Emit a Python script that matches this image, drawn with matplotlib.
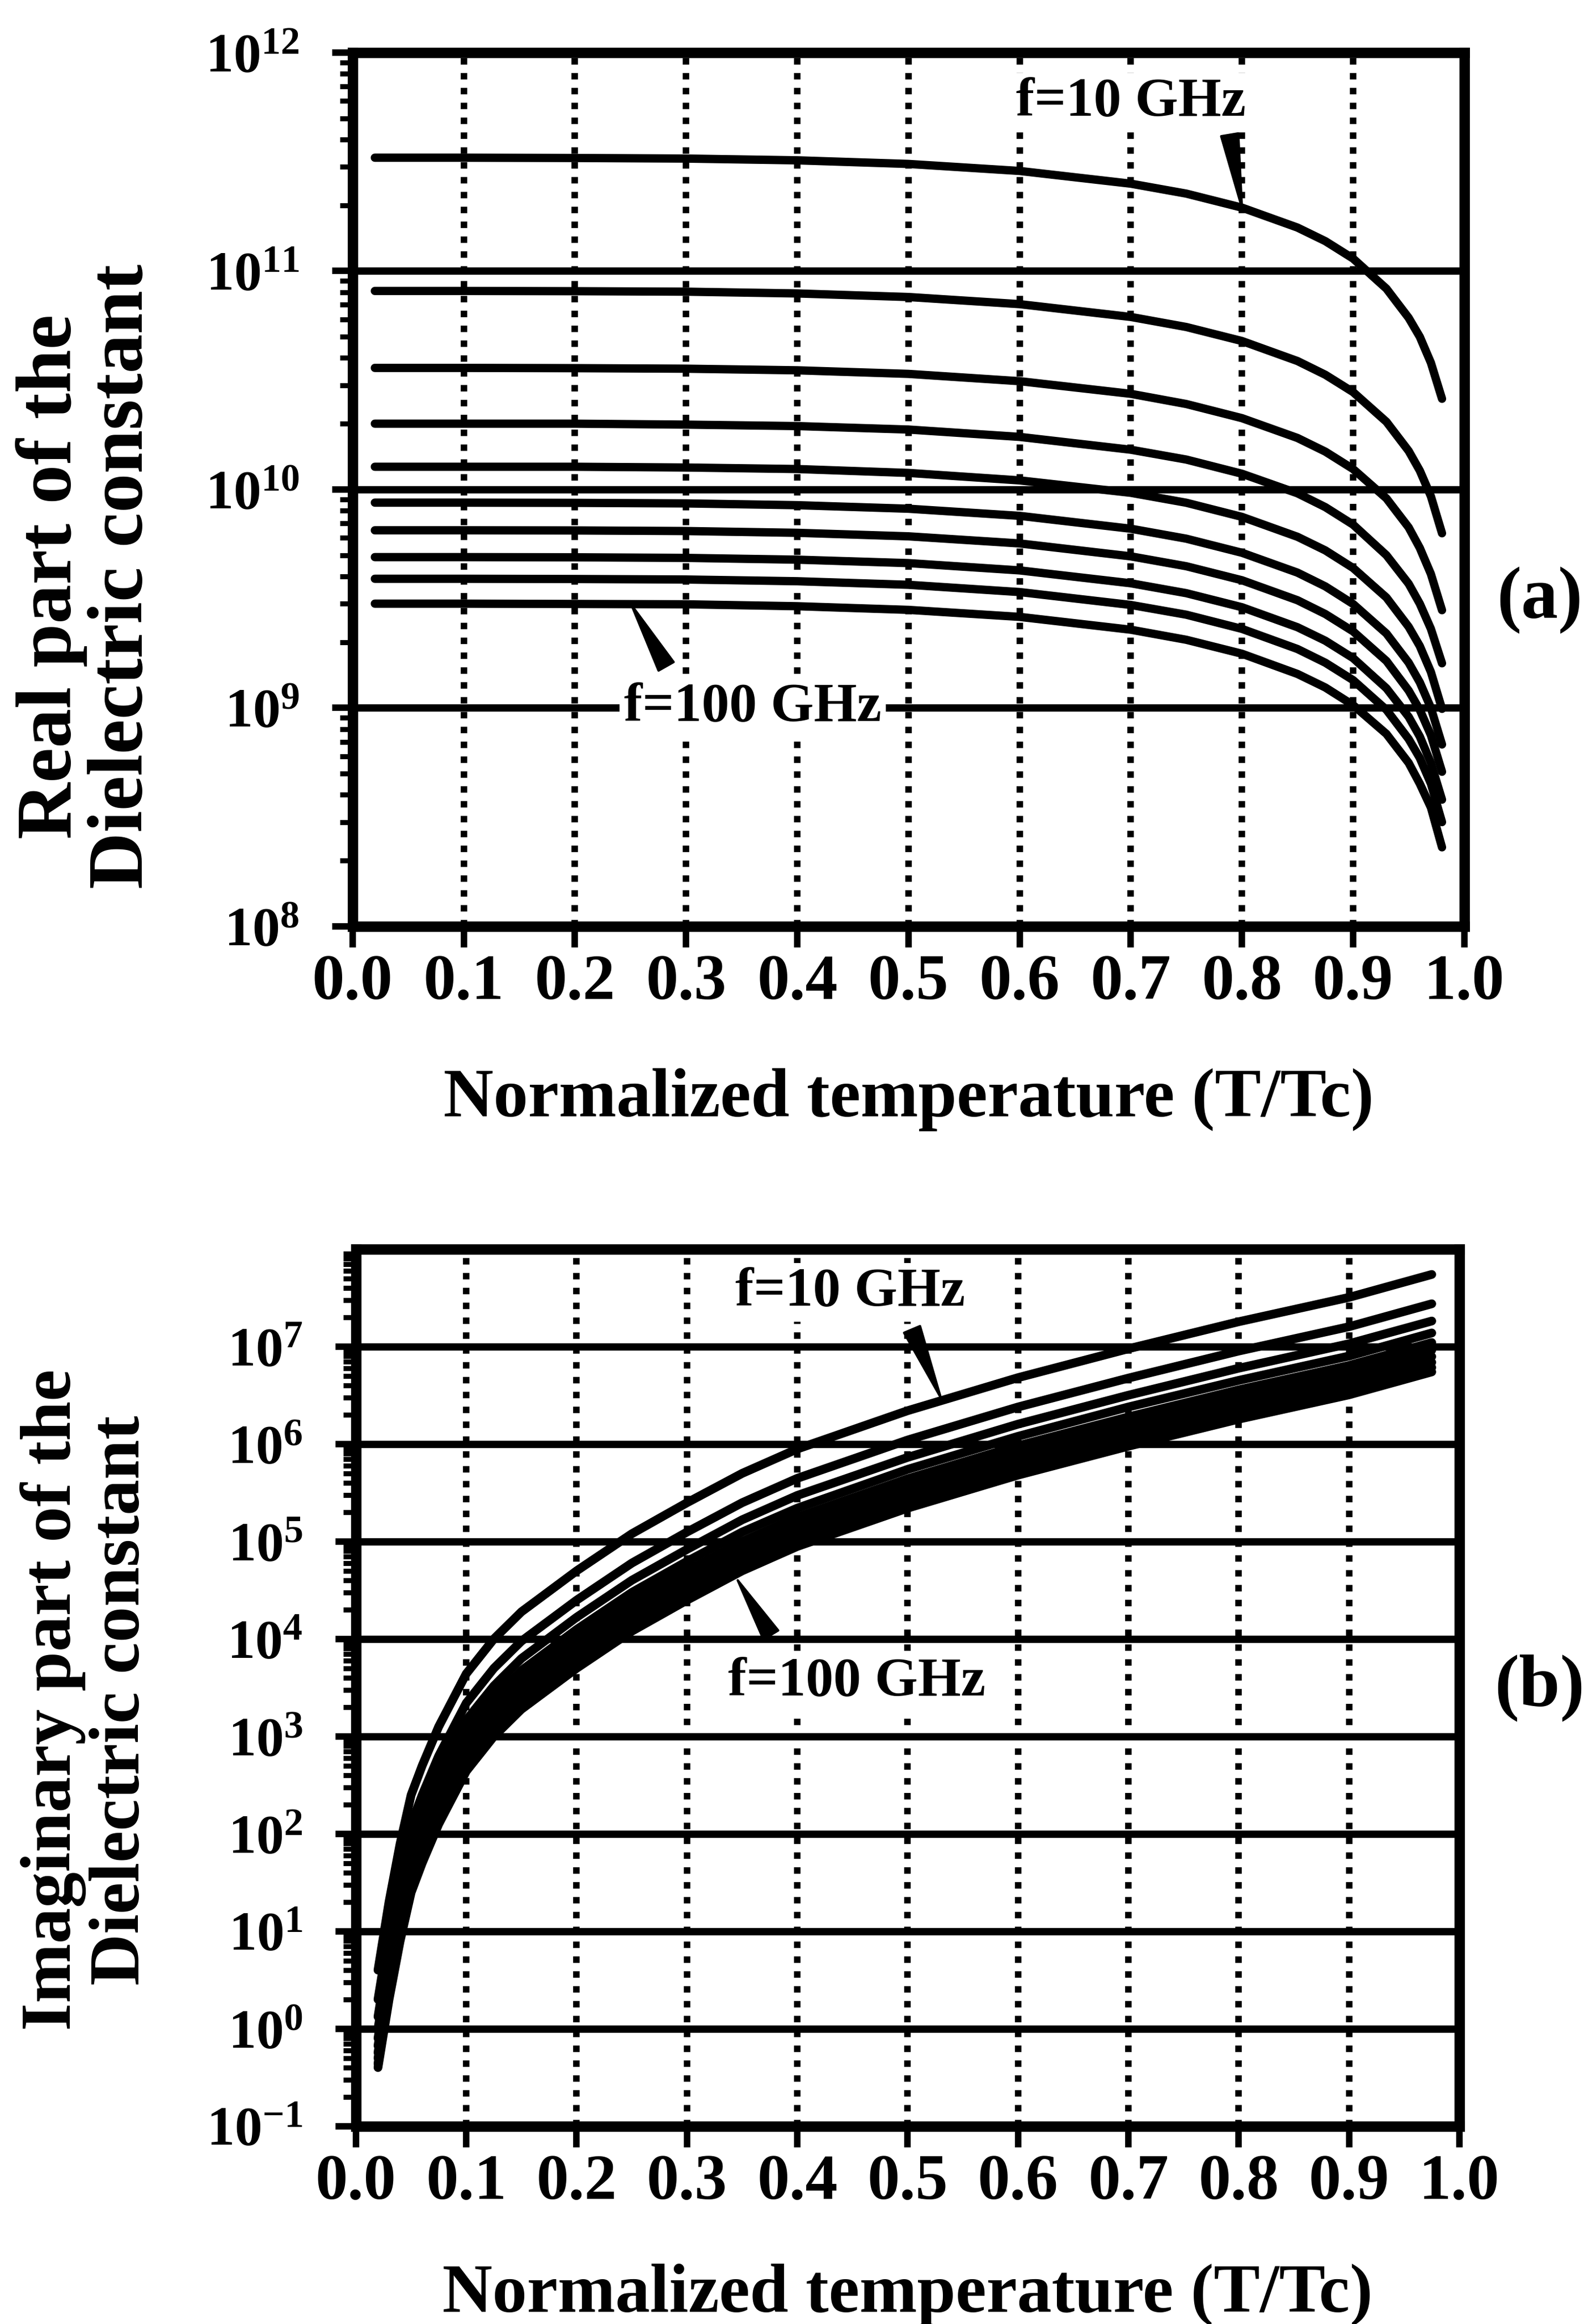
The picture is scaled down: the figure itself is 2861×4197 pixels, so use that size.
import matplotlib.pyplot as plt
from matplotlib.ticker import FixedLocator, LogLocator, NullFormatter, LogFormatterMathtext

plt.rcParams['font.family'] = ['Liberation Serif', 'DejaVu Serif']
plt.rcParams['font.weight'] = 'bold'
plt.rcParams['axes.labelweight'] = 'bold'

# normalized temperature ticks
xticks = [0.0, 0.1, 0.2, 0.3, 0.4, 0.5, 0.6, 0.7, 0.8, 0.9, 1.0]
xtick_labels = ['0.0', '0.1', '0.2', '0.3', '0.4', '0.5', '0.6', '0.7', '0.8', '0.9', '1.0']

# (a) real part, f = 10 ... 100 GHz
t_real = [0.02, 0.1, 0.2, 0.3, 0.4, 0.5, 0.6, 0.7, 0.75, 0.8, 0.85, 0.875, 0.9, 0.93, 0.95, 0.96, 0.97, 0.98]
real_10 = [3.3e11, 3.3e11, 3.29e11, 3.27e11, 3.21e11, 3.09e11, 2.87e11, 2.51e11, 2.26e11, 1.95e11, 1.58e11, 1.37e11, 1.14e11, 8.3e10, 6.1e10, 5.0e10, 3.8e10, 2.6e10]
real_20 = [8.1e10, 8.1e10, 8.08e10, 8.04e10, 7.89e10, 7.6e10, 7.05e10, 6.16e10, 5.54e10, 4.78e10, 3.87e10, 3.35e10, 2.79e10, 2.04e10, 1.5e10, 1.22e10, 9.3e9, 6.3e9]
real_30 = [3.6e10, 3.6e10, 3.59e10, 3.57e10, 3.51e10, 3.38e10, 3.13e10, 2.74e10, 2.46e10, 2.12e10, 1.72e10, 1.49e10, 1.24e10, 9.1e9, 6.7e9, 5.4e9, 4.1e9, 2.8e9]
real_40 = [2.0e10, 2.0e10, 2.0e10, 1.98e10, 1.95e10, 1.88e10, 1.74e10, 1.52e10, 1.37e10, 1.18e10, 9.6e9, 8.3e9, 6.9e9, 5.0e9, 3.7e9, 3.0e9, 2.3e9, 1.6e9]
real_50 = [1.27e10, 1.27e10, 1.27e10, 1.26e10, 1.24e10, 1.19e10, 1.1e10, 9.65e9, 8.69e9, 7.49e9, 6.07e9, 5.26e9, 4.37e9, 3.2e9, 2.35e9, 1.92e9, 1.46e9, 9.9e8]
real_60 = [8.7e9, 8.7e9, 8.68e9, 8.63e9, 8.47e9, 8.16e9, 7.57e9, 6.61e9, 5.95e9, 5.13e9, 4.16e9, 3.6e9, 2.99e9, 2.19e9, 1.61e9, 1.31e9, 1.0e9, 6.8e8]
real_70 = [6.5e9, 6.5e9, 6.49e9, 6.45e9, 6.33e9, 6.1e9, 5.66e9, 4.94e9, 4.45e9, 3.84e9, 3.11e9, 2.69e9, 2.24e9, 1.64e9, 1.2e9, 9.8e8, 7.5e8, 5.1e8]
real_80 = [4.9e9, 4.9e9, 4.89e9, 4.86e9, 4.77e9, 4.6e9, 4.26e9, 3.72e9, 3.35e9, 2.89e9, 2.34e9, 2.03e9, 1.69e9, 1.23e9, 9.1e8, 7.4e8, 5.6e8, 3.8e8]
real_90 = [3.9e9, 3.9e9, 3.89e9, 3.87e9, 3.8e9, 3.66e9, 3.39e9, 2.96e9, 2.67e9, 2.3e9, 1.86e9, 1.61e9, 1.34e9, 9.8e8, 7.2e8, 5.9e8, 4.5e8, 3.0e8]
real_100 = [3.0e9, 3.0e9, 2.99e9, 2.98e9, 2.92e9, 2.81e9, 2.61e9, 2.28e9, 2.05e9, 1.77e9, 1.43e9, 1.24e9, 1.03e9, 7.6e8, 5.6e8, 4.5e8, 3.5e8, 2.3e8]

# (b) imaginary part, f = 10 ... 100 GHz
t_imag = [0.02, 0.03, 0.04, 0.05, 0.06, 0.075, 0.1, 0.125, 0.15, 0.2, 0.25, 0.3, 0.35, 0.4, 0.5, 0.6, 0.7, 0.8, 0.9, 0.975]
imag_10 = [4.0, 20, 79, 250, 500, 1260, 4400, 1.0e4, 1.9e4, 5.0e4, 1.2e5, 2.5e5, 5.0e5, 8.9e5, 2.2e6, 4.8e6, 9.5e6, 1.8e7, 3.2e7, 5.5e7]
imag_20 = [2.0, 10, 40, 125, 250, 630, 2200, 5.0e3, 9.5e3, 2.5e4, 6.0e4, 1.25e5, 2.5e5, 4.45e5, 1.1e6, 2.4e6, 4.75e6, 9.0e6, 1.6e7, 2.75e7]
imag_30 = [1.33, 6.7, 26, 83, 167, 420, 1470, 3.3e3, 6.3e3, 1.67e4, 4.0e4, 8.3e4, 1.67e5, 2.97e5, 7.3e5, 1.6e6, 3.17e6, 6.0e6, 1.07e7, 1.83e7]
imag_40 = [1.0, 5.0, 20, 63, 125, 315, 1100, 2.5e3, 4.75e3, 1.25e4, 3.0e4, 6.25e4, 1.25e5, 2.2e5, 5.5e5, 1.2e6, 2.4e6, 4.5e6, 8.0e6, 1.38e7]
imag_50 = [0.8, 4.0, 16, 50, 100, 252, 880, 2.0e3, 3.8e3, 1.0e4, 2.4e4, 5.0e4, 1.0e5, 1.78e5, 4.4e5, 9.6e5, 1.9e6, 3.6e6, 6.4e6, 1.1e7]
imag_60 = [0.67, 3.3, 13, 42, 83, 210, 730, 1.67e3, 3.2e3, 8.3e3, 2.0e4, 4.2e4, 8.3e4, 1.48e5, 3.7e5, 8.0e5, 1.58e6, 3.0e6, 5.3e6, 9.2e6]
imag_70 = [0.57, 2.9, 11.3, 36, 71, 180, 630, 1.43e3, 2.7e3, 7.1e3, 1.7e4, 3.6e4, 7.1e4, 1.27e5, 3.1e5, 6.9e5, 1.36e6, 2.6e6, 4.6e6, 7.9e6]
imag_80 = [0.5, 2.5, 9.9, 31, 63, 158, 550, 1.25e3, 2.4e3, 6.25e3, 1.5e4, 3.1e4, 6.25e4, 1.1e5, 2.75e5, 6.0e5, 1.19e6, 2.25e6, 4.0e6, 6.9e6]
imag_90 = [0.44, 2.2, 8.8, 28, 56, 140, 490, 1.1e3, 2.1e3, 5.6e3, 1.33e4, 2.8e4, 5.6e4, 9.9e4, 2.4e5, 5.3e5, 1.06e6, 2.0e6, 3.6e6, 6.1e6]
imag_100 = [0.4, 2.0, 7.9, 25, 50, 126, 440, 1.0e3, 1.9e3, 5.0e3, 1.2e4, 2.5e4, 5.0e4, 8.9e4, 2.2e5, 4.8e5, 9.5e5, 1.8e6, 3.2e6, 5.5e6]

real_curves = [real_10, real_20, real_30, real_40, real_50, real_60, real_70, real_80, real_90, real_100]
imag_curves = [imag_10, imag_20, imag_30, imag_40, imag_50, imag_60, imag_70, imag_80, imag_90, imag_100]

real_decades = [1e8, 1e9, 1e10, 1e11, 1e12]
imag_decades = [1e-1, 1e0, 1e1, 1e2, 1e3, 1e4, 1e5, 1e6, 1e7]


def style_axes(ax, ylim, decades):
    ax.set_yscale('log')
    ax.set_xlim(0, 1)
    ax.set_ylim(*ylim)
    ax.set_xticks(xticks)
    ax.set_xticklabels(xtick_labels)
    ax.yaxis.set_major_locator(FixedLocator(decades))
    ax.yaxis.set_major_formatter(LogFormatterMathtext())
    ax.yaxis.set_minor_locator(LogLocator(base=10, subs=range(2, 10), numticks=30))
    ax.yaxis.set_minor_formatter(NullFormatter())
    ax.grid(axis='x', which='major', color='black', lw=2.8, ls=(0, (1, 1.3)))
    ax.grid(axis='y', which='major', color='black', lw=3.2, ls='-')
    ax.set_axisbelow(True)
    for s in ax.spines.values():
        s.set_linewidth(4.5)
    ax.tick_params(which='major', direction='out', length=9, width=2.8)
    ax.tick_params(which='minor', direction='out', length=5.5, width=2.2)
    ax.tick_params(axis='x', labelsize=28, pad=3)
    ax.tick_params(axis='y', labelsize=24, pad=14)


fig = plt.figure(figsize=(2861 / 300, 4197 / 300), dpi=300)
ax1 = fig.add_axes([0.2226, 0.6014, 0.7018, 0.3760])
ax2 = fig.add_axes([0.2247, 0.0851, 0.6966, 0.3774])

style_axes(ax1, (1e8, 1e12), real_decades)
style_axes(ax2, (1e-1, 1e8), imag_decades)

for vals in real_curves:
    ax1.plot(t_real, vals, color='black', lw=3.6, solid_capstyle='round', solid_joinstyle='round')
for vals in imag_curves:
    ax2.plot(t_imag, vals, color='black', lw=3.8, solid_capstyle='round', solid_joinstyle='round')

wedge = dict(arrowstyle='wedge,tail_width=0.75', fc='black', ec='black', shrinkA=0, shrinkB=0)
box = dict(facecolor='white', edgecolor='none', pad=2)

# panel (a) labels
ax1.text(0.70, 5.9e11, 'f=10 GHz', fontsize=24, ha='center', va='center', bbox=box)
ax1.annotate('', xy=(0.80, 1.95e11), xytext=(0.789, 4.2e11), arrowprops=wedge)
ax1.text(0.36, 1e9, 'f=100 GHz', fontsize=24, ha='center', va='center', bbox=box)
ax1.annotate('', xy=(0.251, 2.95e9), xytext=(0.282, 1.55e9), arrowprops=wedge)

# panel (b) labels
ax2.text(0.448, 3.6e7, 'f=10 GHz', fontsize=24, ha='center', va='center', bbox=box)
ax2.annotate('', xy=(0.53, 3.0e6), xytext=(0.504, 1.5e7), arrowprops=wedge)
ax2.text(0.454, 3.6e3, 'f=100 GHz', fontsize=24, ha='center', va='center', bbox=box)
ax2.annotate('', xy=(0.346, 4.0e4), xytext=(0.376, 1.1e4), arrowprops=wedge)

ax1.set_xlabel('Normalized temperature (T/Tc)', fontsize=30, labelpad=24)
ax2.set_xlabel('Normalized temperature (T/Tc)', fontsize=30, labelpad=22)

fig.text(0.055, 0.752, 'Real part of the\nDielectric constant', rotation=90,
         ha='center', va='center', fontsize=34, linespacing=1.0)
fig.text(0.055, 0.2685, 'Imaginary part of the\nDielectric constant', rotation=90,
         ha='center', va='center', fontsize=31, linespacing=1.05)

fig.text(0.972, 1 - 1084 / 4197, '(a)', ha='center', va='center', fontsize=32)
fig.text(0.972, 1 - 3048 / 4197, '(b)', ha='center', va='center', fontsize=32)

plt.savefig('out.png', dpi=300, facecolor='white')
